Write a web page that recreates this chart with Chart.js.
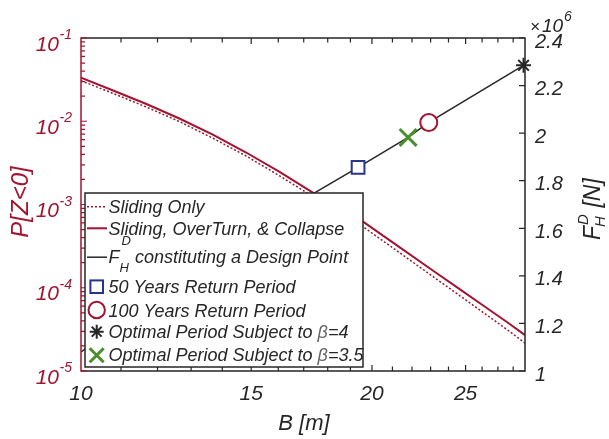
<!DOCTYPE html>
<html><head><meta charset="utf-8">
<script src="https://cdn.jsdelivr.net/npm/chart.js@4/dist/chart.umd.min.js"></script>
<style>html,body{margin:0;padding:0;background:#fff}canvas{display:block}</style>
</head><body>
<canvas id="c" width="609" height="439"></canvas>
<script>
// ---- data ----
const B_curve = [10, 10.78, 11.67, 12.64, 13.69, 14.82, 16.05, 17.39, 19.58, 21.39, 23.14, 24.69, 26.09, 27.63, 28.8];
const P_slidingOnly = [0.03068, 0.02171, 0.01491, 0.00993, 0.00626, 0.003825, 0.002208, 0.001235, 5.413e-4, 2.608e-4, 1.357e-4, 7.94e-5, 5.016e-5, 3.11e-5, 2.165e-5];
const P_allModes = [0.03335, 0.0236, 0.01621, 0.01079, 0.006894, 0.004213, 0.002464, 0.001378, 6.215e-4, 3.036e-4, 1.602e-4, 9.5e-5, 6.087e-5, 3.825e-5, 2.7e-5];
const B_design = [10, 17.39, 19.35, 21.8, 22.9, 28.7];
const F_design = [1.08e6, 1.746e6, 1.856e6, 1.982e6, 2.045e6, 2.285e6];
const B_50yr = [19.35], F_50yr = [1.856e6];
const B_100yr = [22.9], F_100yr = [2.045e6];
const B_beta4 = [28.7], F_beta4 = [2.285e6];
const B_beta35 = [21.8], F_beta35 = [1.982e6];
const xTickValues = [10, 15, 20, 25];
const xMinorTicks = [11,12,13,14,15,16,17,18,19,20,21,22,23,24,25,26,27,28];
const leftExponents = [-5, -4, -3, -2, -1];
const rightTickValues = [1, 1.2, 1.4, 1.6, 1.8, 2, 2.2, 2.4];
const rightTickLabels = ['1', '1.2', '1.4', '1.6', '1.8', '2', '2.2', '2.4'];
const legendLabels = ['Sliding Only', 'Sliding, OverTurn, & Collapse', 'constituting a Design Point',
  '50 Years Return Period', '100 Years Return Period', 'Optimal Period Subject to ', 'Optimal Period Subject to '];

const RED = '#A2142F', INK = '#262626', NAVY = '#27348B', GREEN = '#4A8F2E';
const FF = '"Liberation Sans", Arial, Helvetica, sans-serif';
const fnt = s => `italic ${s}px ${FF}`;
const pts = (xs, ys) => xs.map((x, i) => ({x, y: ys[i]}));

function txt(ctx, s, x, y, size, color, align) {
  ctx.font = fnt(size); ctx.fillStyle = color; ctx.textAlign = align || 'left'; ctx.textBaseline = 'alphabetic';
  ctx.fillText(s, x, y);
  return ctx.measureText(s).width;
}

const axesPlugin = {
  id: 'axesDeco',
  afterDatasetsDraw(chart) {
    const {ctx, chartArea: a, scales} = chart;
    const sx = scales.x, yl = scales.y, yr = scales.y2;
    ctx.save();
    ctx.lineCap = 'butt';
    ctx.strokeStyle = INK; ctx.lineWidth = 1.5;
    ctx.beginPath();
    ctx.moveTo(a.left, a.top); ctx.lineTo(a.right, a.top); ctx.lineTo(a.right, a.bottom); ctx.lineTo(a.left, a.bottom);
    ctx.stroke();
    ctx.lineWidth = 1.2; ctx.beginPath();
    xMinorTicks.forEach(v => {
      const px = sx.getPixelForValue(v);
      const len = xTickValues.includes(v) ? 6 : 4.5;
      ctx.moveTo(px, a.bottom); ctx.lineTo(px, a.bottom - len);
      ctx.moveTo(px, a.top); ctx.lineTo(px, a.top + len);
    });
    rightTickValues.forEach(v => {
      const py = yr.getPixelForValue(v * 1e6);
      ctx.moveTo(a.right, py); ctx.lineTo(a.right - 6, py);
    });
    ctx.stroke();
    ctx.strokeStyle = RED; ctx.lineWidth = 1.5;
    ctx.beginPath(); ctx.moveTo(a.left, a.top - 0.75); ctx.lineTo(a.left, a.bottom + 0.75); ctx.stroke();
    ctx.lineWidth = 1.2; ctx.beginPath();
    leftExponents.forEach(e => {
      for (let k = 1; k <= 9; k++) {
        if (e === -1 && k > 1) break;
        const py = yl.getPixelForValue(k * Math.pow(10, e));
        const len = k === 1 ? 6 : 4;
        ctx.moveTo(a.left, py); ctx.lineTo(a.left + len, py);
      }
    });
    ctx.stroke();
    leftExponents.forEach(e => {
      const py = yl.getPixelForValue(Math.pow(10, e));
      ctx.font = fnt(14);
      const es = String(e);
      const we = ctx.measureText(es).width;
      txt(ctx, es, 72 - we, py + 1, 14, RED);
      txt(ctx, '10', 72 - we - 0.5, py + 12.5, 21, RED, 'right');
    });
    rightTickValues.forEach((v, i) => {
      const py = yr.getPixelForValue(v * 1e6);
      txt(ctx, rightTickLabels[i], a.right + 10, py + 9.5, 20, INK);
    });
    xTickValues.forEach(v => {
      const px = sx.getPixelForValue(v);
      txt(ctx, String(v), px, 400, 21, INK, 'center');
    });
    txt(ctx, '\u00d7', 530, 32, 17, INK);
    txt(ctx, '10', 542, 32, 19, INK);
    txt(ctx, '6', 564, 21, 14, INK);
    txt(ctx, 'B [m]', 304, 430, 22, INK, 'center');
    ctx.save(); ctx.translate(28, 202); ctx.rotate(-Math.PI / 2);
    txt(ctx, 'P[Z<0]', 0, 0, 24, RED, 'center');
    ctx.restore();
    ctx.save(); ctx.translate(600, 240); ctx.rotate(-Math.PI / 2);
    let w = txt(ctx, 'F', 0, 0, 23, INK);
    txt(ctx, 'D', w + 1, -12, 15, INK);
    txt(ctx, 'H', w - 1, 5, 15, INK);
    txt(ctx, ' [N]', w + 12, 0, 23, INK);
    ctx.restore();
    ctx.restore();
  },
  afterDraw(chart) {
    const {ctx} = chart;
    ctx.save();
    const L = 85, T = 193, R = 363, Bt = 367;
    ctx.fillStyle = '#fff'; ctx.fillRect(L, T, R - L, Bt - T);
    ctx.strokeStyle = INK; ctx.lineWidth = 1.5; ctx.strokeRect(L, T, R - L, Bt - T);
    const tx = 108.5, mx = 96.7;
    const base = [213.3, 235, 263.3, 293.3, 316.7, 338.3, 361.2];
    const mid = [206.7, 228.3, 256.7, 286.7, 310, 331.7, 355.2];
    ctx.strokeStyle = RED; ctx.lineWidth = 1.5; ctx.setLineDash([2, 2]);
    ctx.beginPath(); ctx.moveTo(87, mid[0]); ctx.lineTo(107, mid[0]); ctx.stroke();
    ctx.setLineDash([]);
    txt(ctx, legendLabels[0], tx, base[0], 18, INK);
    ctx.lineWidth = 2; ctx.beginPath(); ctx.moveTo(87, mid[1]); ctx.lineTo(107, mid[1]); ctx.stroke();
    txt(ctx, legendLabels[1], tx, base[1], 18, INK);
    ctx.strokeStyle = INK; ctx.lineWidth = 1.5;
    ctx.beginPath(); ctx.moveTo(87, mid[2] + 0.5); ctx.lineTo(107, mid[2] + 0.5); ctx.stroke();
    txt(ctx, 'F', tx, base[2], 18, INK);
    txt(ctx, 'D', 121.5, 245, 13, INK);
    txt(ctx, 'H', 119.5, 272, 13, INK);
    txt(ctx, legendLabels[2], 135, base[2], 18, INK);
    ctx.strokeStyle = NAVY; ctx.lineWidth = 2;
    ctx.strokeRect(mx - 6.3, mid[3] - 6.3, 12.6, 12.6);
    txt(ctx, legendLabels[3], tx, base[3], 18, INK);
    ctx.strokeStyle = RED; ctx.beginPath(); ctx.arc(mx, mid[4], 8.2, 0, Math.PI * 2); ctx.stroke();
    txt(ctx, legendLabels[4], tx, base[4], 18, INK);
    ctx.strokeStyle = INK; ctx.lineWidth = 2; ctx.beginPath();
    const r = 7, d = r * Math.SQRT1_2;
    ctx.moveTo(mx - r, mid[5]); ctx.lineTo(mx + r, mid[5]);
    ctx.moveTo(mx, mid[5] - r); ctx.lineTo(mx, mid[5] + r);
    ctx.moveTo(mx - d, mid[5] - d); ctx.lineTo(mx + d, mid[5] + d);
    ctx.moveTo(mx - d, mid[5] + d); ctx.lineTo(mx + d, mid[5] - d);
    ctx.stroke();
    let w = txt(ctx, legendLabels[5], tx, base[5], 18, INK);
    let w2 = txt(ctx, '\u03b2', tx + w, base[5], 18, '#666');
    txt(ctx, '=4', tx + w + w2, base[5], 18, INK);
    ctx.strokeStyle = GREEN; ctx.lineWidth = 3; ctx.beginPath();
    ctx.moveTo(mx - 7, mid[6] - 7); ctx.lineTo(mx + 7, mid[6] + 7);
    ctx.moveTo(mx - 7, mid[6] + 7); ctx.lineTo(mx + 7, mid[6] - 7);
    ctx.stroke();
    w = txt(ctx, legendLabels[6], tx, base[6], 18, INK);
    w2 = txt(ctx, '\u03b2', tx + w, base[6], 18, '#666');
    txt(ctx, '=3.5', tx + w + w2, base[6], 18, INK);
    ctx.restore();
  }
};

new Chart(document.getElementById('c'), {
  type: 'line',
  data: {
    datasets: [
      {label: 'Optimal Period Subject to \u03b2=3.5', data: pts(B_beta35, F_beta35), yAxisID: 'y2', showLine: false,
        pointStyle: 'crossRot', pointRadius: 12, pointBorderWidth: 3, borderColor: GREEN, pointBorderColor: GREEN, clip: false},
      {label: 'Optimal Period Subject to \u03b2=4', data: pts(B_beta4, F_beta4), yAxisID: 'y2', showLine: false,
        pointStyle: 'star', pointRadius: 7.5, pointBorderWidth: 2, borderColor: INK, pointBorderColor: INK, clip: false},
      {label: '100 Years Return Period', data: pts(B_100yr, F_100yr), yAxisID: 'y2', showLine: false,
        pointStyle: 'circle', pointRadius: 8.5, pointBorderWidth: 2, borderColor: RED, pointBorderColor: RED, pointBackgroundColor: '#fff', clip: false},
      {label: '50 Years Return Period', data: pts(B_50yr, F_50yr), yAxisID: 'y2', showLine: false,
        pointStyle: 'rect', pointRadius: 9, pointBorderWidth: 2, borderColor: NAVY, pointBorderColor: NAVY, pointBackgroundColor: '#fff', clip: false},
      {label: 'F_H^D constituting a Design Point', data: pts(B_design, F_design), yAxisID: 'y2',
        borderColor: INK, borderWidth: 1.5, pointRadius: 0, tension: 0},
      {label: 'Sliding, OverTurn, & Collapse', data: pts(B_curve, P_allModes), yAxisID: 'y',
        borderColor: RED, borderWidth: 2, pointRadius: 0, tension: 0},
      {label: 'Sliding Only', data: pts(B_curve, P_slidingOnly), yAxisID: 'y',
        borderColor: RED, borderWidth: 1.5, borderDash: [2, 2], pointRadius: 0, tension: 0}
    ]
  },
  options: {
    responsive: false, animation: false, devicePixelRatio: 1, events: [],
    layout: {padding: {top: 38, left: 0, right: 0, bottom: 0}},
    plugins: {legend: {display: false}, tooltip: {enabled: false}},
    scales: {
      x: {type: 'logarithmic', position: 'bottom', min: 10, max: 28.8,
        grid: {display: false}, border: {display: false}, ticks: {display: false},
        afterFit: s => { s.height = 68; }},
      y: {type: 'logarithmic', position: 'left', min: 1e-5, max: 1e-1,
        grid: {display: false}, border: {display: false}, ticks: {display: false},
        afterFit: s => { s.width = 81; }},
      y2: {type: 'linear', position: 'right', min: 1e6, max: 2.4e6,
        grid: {display: false}, border: {display: false}, ticks: {display: false},
        afterFit: s => { s.width = 84; }}
    }
  },
  plugins: [axesPlugin]
});
</script>
</body></html>
